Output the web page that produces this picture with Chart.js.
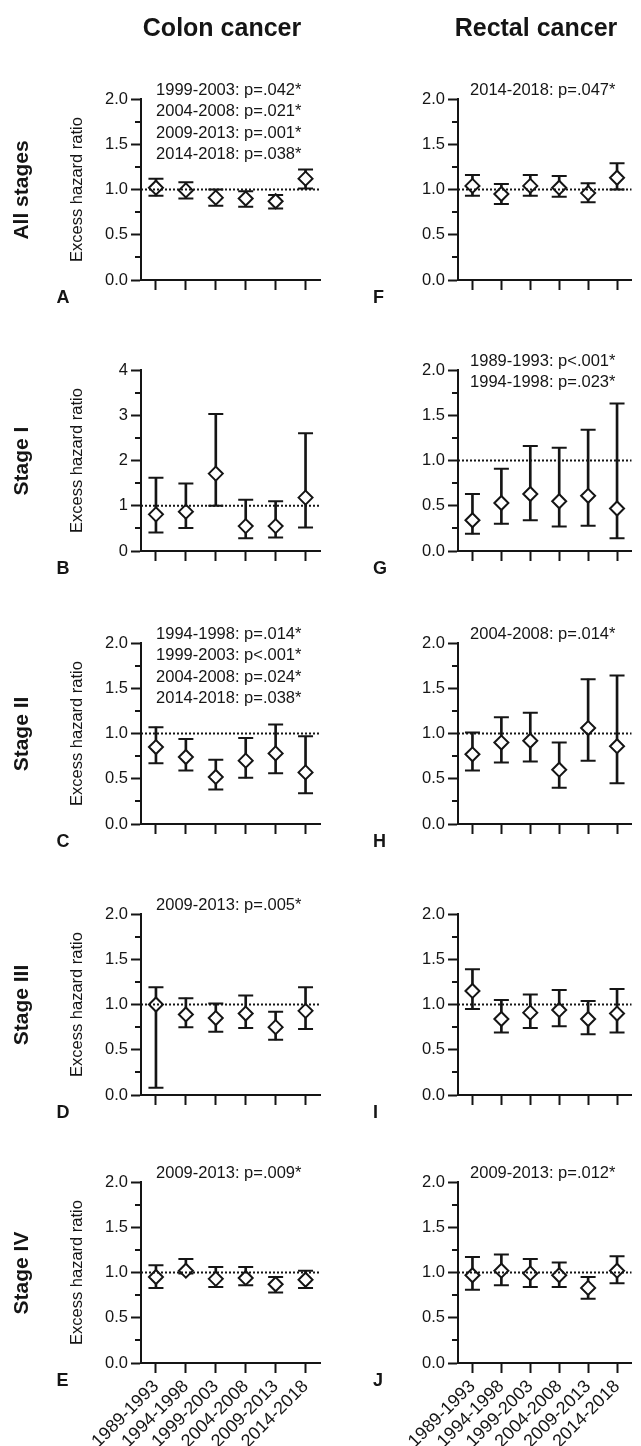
<!DOCTYPE html>
<html>
<head>
<meta charset="utf-8">
<script src="https://cdn.jsdelivr.net/npm/chart.js@4.4.1/dist/chart.umd.min.js"></script>
<style>
  body { margin: 0; background: #fff; width: 641px; height: 1446px; position: relative; overflow: hidden;
         font-family: "Liberation Sans", Arial, sans-serif; color: #151515; }
  .box { position: absolute; }
  .lbl { position: absolute; font-weight: bold; white-space: nowrap; }
</style>
</head>
<body>
<script>
const periods = ['1989-1993', '1994-1998', '1999-2003', '2004-2008', '2009-2013', '2014-2018']

// colon cancer
const colonAllEhr  = [1.02, 0.99, 0.91, 0.90, 0.87, 1.12]
const colonAllLow  = [0.93, 0.90, 0.82, 0.81, 0.79, 1.01]
const colonAllHigh = [1.12, 1.08, 1.00, 0.98, 0.94, 1.22]
const colonAllNotes = ['1999-2003: p=.042*', '2004-2008: p=.021*', '2009-2013: p=.001*', '2014-2018: p=.038*']

const colonS1Ehr  = [0.81, 0.87, 1.71, 0.55, 0.55, 1.18]
const colonS1Low  = [0.41, 0.51, 1.00, 0.28, 0.30, 0.52]
const colonS1High = [1.62, 1.49, 3.03, 1.13, 1.10, 2.60]
const colonS1Notes = []

const colonS2Ehr  = [0.85, 0.74, 0.52, 0.70, 0.78, 0.57]
const colonS2Low  = [0.67, 0.59, 0.38, 0.51, 0.56, 0.34]
const colonS2High = [1.07, 0.94, 0.71, 0.95, 1.10, 0.97]
const colonS2Notes = ['1994-1998: p=.014*', '1999-2003: p<.001*', '2004-2008: p=.024*', '2014-2018: p=.038*']

const colonS3Ehr  = [1.00, 0.89, 0.85, 0.90, 0.75, 0.93]
const colonS3Low  = [0.08, 0.75, 0.70, 0.74, 0.61, 0.73]
const colonS3High = [1.19, 1.07, 1.01, 1.10, 0.92, 1.19]
const colonS3Notes = ['2009-2013: p=.005*']

const colonS4Ehr  = [0.95, 1.02, 0.93, 0.94, 0.87, 0.92]
const colonS4Low  = [0.83, 0.99, 0.84, 0.86, 0.78, 0.83]
const colonS4High = [1.08, 1.15, 1.06, 1.06, 0.95, 1.02]
const colonS4Notes = ['2009-2013: p=.009*']

// rectal cancer
const rectalAllEhr  = [1.04, 0.95, 1.04, 1.02, 0.96, 1.13]
const rectalAllLow  = [0.93, 0.84, 0.93, 0.92, 0.86, 1.00]
const rectalAllHigh = [1.16, 1.06, 1.16, 1.15, 1.07, 1.29]
const rectalAllNotes = ['2014-2018: p=.047*']

const rectalS1Ehr  = [0.34, 0.53, 0.63, 0.55, 0.61, 0.47]
const rectalS1Low  = [0.19, 0.30, 0.34, 0.27, 0.28, 0.14]
const rectalS1High = [0.63, 0.91, 1.16, 1.14, 1.34, 1.63]
const rectalS1Notes = ['1989-1993: p<.001*', '1994-1998: p=.023*']

const rectalS2Ehr  = [0.77, 0.90, 0.92, 0.60, 1.06, 0.86]
const rectalS2Low  = [0.59, 0.68, 0.69, 0.40, 0.70, 0.45]
const rectalS2High = [1.01, 1.18, 1.23, 0.90, 1.60, 1.64]
const rectalS2Notes = ['2004-2008: p=.014*']

const rectalS3Ehr  = [1.15, 0.84, 0.91, 0.94, 0.84, 0.90]
const rectalS3Low  = [0.95, 0.69, 0.74, 0.76, 0.67, 0.69]
const rectalS3High = [1.39, 1.05, 1.11, 1.16, 1.04, 1.17]
const rectalS3Notes = []

const rectalS4Ehr  = [0.97, 1.02, 0.99, 0.97, 0.83, 1.02]
const rectalS4Low  = [0.81, 0.86, 0.84, 0.84, 0.71, 0.88]
const rectalS4High = [1.17, 1.20, 1.15, 1.11, 0.95, 1.18]
const rectalS4Notes = ['2009-2013: p=.012*']

const columnTitles = ['Colon cancer', 'Rectal cancer']
const rowLabels = ['All stages', 'Stage I', 'Stage II', 'Stage III', 'Stage IV']
const panelLetters = [['A', 'B', 'C', 'D', 'E'], ['F', 'G', 'H', 'I', 'J']]
const yTitle = 'Excess hazard ratio'

const INK = '#151515'
const FONT = '"Liberation Sans", Arial, sans-serif'
Chart.defaults.font.family = FONT
Chart.defaults.color = INK

// layout
const rowTops = [99, 370, 643, 914, 1182]
const plotH = 181
const columns = [
  {left: 0, width: 330, padL: 60, padR: 9, yWidth: 81, title: true, titleX: 222, letterX: 56.5},
  {left: 330, width: 311, padL: 0, padR: 3, yWidth: 128, title: false, titleX: 536, letterX: 373}
]

const panelExtras = {
  id: 'panelExtras',
  afterDatasetsDraw(chart, args, opts) {
    // dotted reference line at 1.0, drawn over the markers
    const {ctx, chartArea: a} = chart
    const py = chart.scales.y.getPixelForValue(1)
    ctx.save()
    ctx.strokeStyle = INK
    ctx.lineWidth = 1.8
    ctx.setLineDash([2, 2])
    ctx.beginPath()
    ctx.moveTo(a.left, py)
    ctx.lineTo(a.right, py)
    ctx.stroke()
    ctx.restore()
  },
  afterDraw(chart, args, opts) {
    const {ctx, chartArea: a} = chart
    const y = chart.scales.y
    ctx.save()
    // minor ticks
    ctx.strokeStyle = INK
    ctx.lineWidth = 2
    for (let v = opts.step / 2; v < opts.max; v += opts.step) {
      const py = Math.round(y.getPixelForValue(v))
      ctx.beginPath()
      ctx.moveTo(a.left - 6, py)
      ctx.lineTo(a.left, py)
      ctx.stroke()
    }
    // p-value notes
    ctx.fillStyle = INK
    ctx.font = '16.5px ' + FONT
    ctx.textAlign = 'center'
    ctx.textBaseline = 'middle'
    opts.notes.forEach((t, i) => {
      ctx.fillText(t, (a.left + a.right) / 2 - 2, a.top - 9 + i * 21.6)
    })
    ctx.restore()
  }
}

function makePanel(ci, ri, ehr, low, high, notes, yMax, yStep) {
  const col = columns[ci]
  const last = ri == rowTops.length - 1
  const xH = last ? 83 : 20
  const padTop = 60
  const cvH = padTop + plotH + xH
  const wrap = document.createElement('div')
  wrap.className = 'box'
  wrap.style.left = col.left + 'px'
  wrap.style.top = (rowTops[ri] - padTop) + 'px'
  const cv = document.createElement('canvas')
  cv.width = col.width
  cv.height = cvH
  wrap.appendChild(cv)
  document.body.appendChild(wrap)

  new Chart(cv, {
    type: 'line',
    data: {
      labels: periods,
      datasets: [
        {
          data: ehr, showLine: false, pointStyle: 'rectRot', pointRadius: 7, pointBorderWidth: 2,
          pointBorderColor: INK, pointBackgroundColor: '#fff', order: 0
        },
        {
          data: high, showLine: false, pointStyle: 'line', pointRadius: 7.5, pointBorderWidth: 2,
          pointBorderColor: INK, order: 1
        },
        {
          data: low, showLine: false, pointStyle: 'line', pointRadius: 7.5, pointBorderWidth: 2,
          pointBorderColor: INK, order: 1
        },
        {
          type: 'bar', data: low.map((l, i) => [l, high[i]]), barThickness: 2,
          backgroundColor: INK, borderWidth: 0, order: 2
        }
      ]
    },
    options: {
      responsive: false,
      animation: false,
      devicePixelRatio: 1,
      layout: {padding: {left: col.padL, right: col.padR, top: padTop, bottom: 0}},
      plugins: {
        legend: {display: false},
        tooltip: {enabled: false},
        panelExtras: {notes: notes, step: yStep, max: yMax}
      },
      scales: {
        x: {
          type: 'category',
          offset: true,
          afterFit: s => { s.height = xH; s.paddingLeft = 0; s.paddingRight = 0 },
          border: {color: INK, width: 2},
          grid: {drawOnChartArea: false, offset: false, tickLength: 10, tickWidth: 2, tickColor: INK},
          ticks: {display: last, autoSkip: false, minRotation: 45, maxRotation: 45, padding: 3,
                  color: INK, font: {size: 18}}
        },
        y: {
          min: 0, max: yMax,
          afterFit: s => { s.width = col.yWidth; s.paddingTop = 0; s.paddingBottom = 0 },
          border: {color: INK, width: 2},
          grid: {drawOnChartArea: false, tickLength: 10, tickWidth: 2, tickColor: INK},
          ticks: {stepSize: yStep, padding: 3, color: INK, font: {size: 16.5},
                  callback: v => yStep < 1 ? v.toFixed(1) : String(v)},
          title: {display: col.title, text: yTitle, color: INK, font: {size: 16.5}, padding: {top: 8, bottom: 0}}
        }
      }
    },
    plugins: [panelExtras]
  })
}

makePanel(0, 0, colonAllEhr, colonAllLow, colonAllHigh, colonAllNotes, 2, 0.5)
makePanel(0, 1, colonS1Ehr, colonS1Low, colonS1High, colonS1Notes, 4, 1)
makePanel(0, 2, colonS2Ehr, colonS2Low, colonS2High, colonS2Notes, 2, 0.5)
makePanel(0, 3, colonS3Ehr, colonS3Low, colonS3High, colonS3Notes, 2, 0.5)
makePanel(0, 4, colonS4Ehr, colonS4Low, colonS4High, colonS4Notes, 2, 0.5)
makePanel(1, 0, rectalAllEhr, rectalAllLow, rectalAllHigh, rectalAllNotes, 2, 0.5)
makePanel(1, 1, rectalS1Ehr, rectalS1Low, rectalS1High, rectalS1Notes, 2, 0.5)
makePanel(1, 2, rectalS2Ehr, rectalS2Low, rectalS2High, rectalS2Notes, 2, 0.5)
makePanel(1, 3, rectalS3Ehr, rectalS3Low, rectalS3High, rectalS3Notes, 2, 0.5)
makePanel(1, 4, rectalS4Ehr, rectalS4Low, rectalS4High, rectalS4Notes, 2, 0.5)

// titles, row labels, panel letters
function addText(text, css) {
  const d = document.createElement('div')
  d.className = 'lbl'
  d.textContent = text
  Object.assign(d.style, css)
  document.body.appendChild(d)
}
columns.forEach((col, ci) => {
  addText(columnTitles[ci], {left: (col.titleX - 150) + 'px', top: '12.3px', width: '300px',
    textAlign: 'center', fontSize: '25px', lineHeight: '30px'})
  rowTops.forEach((t, ri) => {
    addText(panelLetters[ci][ri], {left: col.letterX + 'px', top: (t + plotH + 7.7) + 'px',
      fontSize: '18px', lineHeight: '18px'})
  })
})
rowTops.forEach((t, ri) => {
  addText(rowLabels[ri], {left: (21 - 100) + 'px', top: (t + plotH / 2 - 12) + 'px', width: '200px',
    height: '24px', textAlign: 'center', fontSize: '21px', lineHeight: '24px', transform: 'rotate(-90deg)'})
})
</script>
</body>
</html>
